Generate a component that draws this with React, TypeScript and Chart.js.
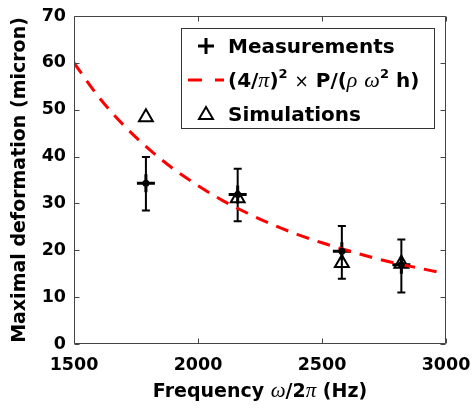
import React, { useEffect, useRef } from 'react';
import { Chart, registerables } from 'chart.js';
Chart.register(...registerables);

// ---- data ----
const FREQ = [1790, 2160, 2580, 2820];
const MEASURED = [34.3, 31.9, 19.8, 16.9];
const ERR_LOW = [28.5, 26.2, 13.9, 11.0];
const ERR_HIGH = [39.9, 37.4, 25.2, 22.3];
const SIMULATED = [48.4, 31.1, 17.3, 17.1];
const MODEL_FREQ = [1500, 1600, 1700, 1800, 1900, 2000, 2100, 2200, 2300, 2400, 2500, 2600, 2700, 2800, 2900, 3000];
const MODEL_DEF = [60.0, 52.7, 46.7, 41.7, 37.4, 33.8, 30.6, 27.9, 25.5, 23.4, 21.6, 20.0, 18.5, 17.2, 16.1, 15.0];
const X_TICKS = [1500, 2000, 2500, 3000];
const Y_TICKS = [0, 10, 20, 30, 40, 50, 60, 70];
const Y_TITLE = 'Maximal deformation (micron)';
const LEGEND_MEAS = 'Measurements';
const LEGEND_SIM = 'Simulations';

const SANS = '"DejaVu Sans"';
const SERIF = '"Liberation Serif"';

type Run = { t: string; font: string; dy?: number };

function runsWidth(ctx: CanvasRenderingContext2D, runs: Run[]) {
  let w = 0;
  for (const r of runs) { ctx.font = r.font; w += ctx.measureText(r.t).width; }
  return w;
}
function drawRuns(ctx: CanvasRenderingContext2D, runs: Run[], x: number, y: number) {
  for (const r of runs) {
    ctx.font = r.font;
    ctx.fillText(r.t, x, y + (r.dy || 0));
    x += ctx.measureText(r.t).width;
  }
}

const decorPlugin = {
  id: 'decor',
  beforeDatasetsDraw(chart: any) {
    const { ctx, scales: { x, y } } = chart;
    ctx.save();
    ctx.strokeStyle = '#000';
    ctx.lineWidth = 2;
    FREQ.forEach((f, i) => {
      const px = x.getPixelForValue(f);
      const top = y.getPixelForValue(ERR_HIGH[i]);
      const bot = y.getPixelForValue(ERR_LOW[i]);
      ctx.beginPath();
      ctx.moveTo(px, top); ctx.lineTo(px, bot);
      ctx.moveTo(px - 4, top); ctx.lineTo(px + 4, top);
      ctx.moveTo(px - 4, bot); ctx.lineTo(px + 4, bot);
      ctx.stroke();
    });
    ctx.restore();
  },
  afterDatasetsDraw(chart: any) {
    const { ctx, scales: { x, y } } = chart;
    ctx.save();
    ctx.fillStyle = '#000';
    FREQ.forEach((f, i) => {
      ctx.beginPath();
      ctx.arc(x.getPixelForValue(f), y.getPixelForValue(MEASURED[i]), 3.5, 0, Math.PI * 2);
      ctx.fill();
    });
    ctx.restore();
  },
  afterDraw(chart: any) {
    const { ctx, chartArea: a, scales: { x, y } } = chart;
    ctx.save();
    // axes box with inward ticks
    ctx.strokeStyle = '#444';
    ctx.lineWidth = 1;
    const L = Math.round(a.left) + 0.5, R = Math.round(a.right) - 0.5;
    const T = Math.round(a.top) + 0.5, B = Math.round(a.bottom) - 0.5;
    ctx.beginPath();
    ctx.rect(L, T, R - L, B - T);
    const tl = 5;
    X_TICKS.forEach(v => {
      const px = Math.round(x.getPixelForValue(v)) + 0.5;
      ctx.moveTo(px, B); ctx.lineTo(px, B - tl);
      ctx.moveTo(px, T); ctx.lineTo(px, T + tl);
    });
    Y_TICKS.forEach(v => {
      const py = Math.round(y.getPixelForValue(v)) + 0.5;
      ctx.moveTo(L, py); ctx.lineTo(L + tl, py);
      ctx.moveTo(R, py); ctx.lineTo(R - tl, py);
    });
    ctx.stroke();

    // x-axis title
    ctx.fillStyle = '#000';
    ctx.textBaseline = 'alphabetic';
    ctx.textAlign = 'left';
    const tb = `bold 19px ${SANS}`;
    const tg = `italic 21px ${SERIF}`;
    const xt: Run[] = [
      { t: 'Frequency ', font: tb },
      { t: 'ω', font: tg },
      { t: '/2', font: tb },
      { t: 'π', font: tg },
      { t: ' (Hz)', font: tb },
    ];
    const cx = (a.left + a.right) / 2;
    drawRuns(ctx, xt, cx - runsWidth(ctx, xt) / 2, 397);

    // legend
    const lx = 181.5, ly = 28.5, lw = 253, lh = 100;
    ctx.fillStyle = '#fff';
    ctx.fillRect(lx, ly, lw, lh);
    ctx.strokeStyle = '#333';
    ctx.lineWidth = 1;
    ctx.strokeRect(lx, ly, lw, lh);

    const lb = `bold 20px ${SANS}`;
    const lg = `italic 22px ${SERIF}`;
    const ls = `bold 13px ${SANS}`;
    const ln = `17px ${SANS}`;
    const textX = 228;
    const rows = [53, 87, 121];
    const mx = 206;

    // row 1 : plus marker
    ctx.strokeStyle = '#000';
    ctx.lineWidth = 3;
    ctx.beginPath();
    ctx.moveTo(mx - 8, rows[0] - 7); ctx.lineTo(mx + 8, rows[0] - 7);
    ctx.moveTo(mx, rows[0] - 15); ctx.lineTo(mx, rows[0] + 1);
    ctx.stroke();
    ctx.fillStyle = '#000';
    drawRuns(ctx, [{ t: LEGEND_MEAS, font: lb }], textX, rows[0]);

    // row 2 : dashed red line
    ctx.strokeStyle = '#ff0000';
    ctx.lineWidth = 3;
    ctx.setLineDash([14, 13]);
    ctx.beginPath();
    ctx.moveTo(188, rows[1] - 7); ctx.lineTo(224, rows[1] - 7);
    ctx.stroke();
    ctx.setLineDash([]);
    const formula: Run[] = [
      { t: '(4/', font: lb },
      { t: 'π', font: lg },
      { t: ')', font: lb },
      { t: '2', font: ls, dy: -9 },
      { t: ' ', font: lb },
      { t: '×', font: ln },
      { t: ' P/(', font: lb },
      { t: 'ρ', font: lg },
      { t: ' ', font: lb },
      { t: 'ω', font: lg },
      { t: '2', font: ls, dy: -9 },
      { t: ' h)', font: lb },
    ];
    drawRuns(ctx, formula, textX, rows[1]);

    // row 3 : triangle
    ctx.strokeStyle = '#000';
    ctx.lineWidth = 2;
    const ty = rows[2] - 7;
    ctx.beginPath();
    ctx.moveTo(mx, ty - 7);
    ctx.lineTo(mx + 7, ty + 5);
    ctx.lineTo(mx - 7, ty + 5);
    ctx.closePath();
    ctx.stroke();
    drawRuns(ctx, [{ t: LEGEND_SIM, font: lb }], textX, rows[2]);
    ctx.restore();
  },
};

export default function App() {
  const ref = useRef<HTMLCanvasElement>(null);
  useEffect(() => {
    document.body.style.margin = '0';
    const tickFont = { family: 'DejaVu Sans', size: 17.5, weight: 'bold' as const };
    const chart = new Chart(ref.current!, {
      type: 'scatter',
      data: {
        datasets: [
          {
            label: 'model',
            data: MODEL_FREQ.map((f, i) => ({ x: f, y: MODEL_DEF[i] })),
            showLine: true,
            borderColor: '#ff0000',
            borderWidth: 3,
            borderDash: [13, 9],
            pointRadius: 0,
            cubicInterpolationMode: 'monotone',
            fill: false,
          },
          {
            label: LEGEND_MEAS,
            data: FREQ.map((f, i) => ({ x: f, y: MEASURED[i] })),
            pointStyle: 'cross',
            pointRadius: 9,
            pointBorderWidth: 3,
            pointBorderColor: '#000',
            pointBackgroundColor: '#000',
          },
          {
            label: LEGEND_SIM,
            data: FREQ.map((f, i) => ({ x: f, y: SIMULATED[i] })),
            pointStyle: 'triangle',
            pointRadius: 8,
            pointBorderWidth: 2,
            pointBorderColor: '#000',
            pointBackgroundColor: 'rgba(0,0,0,0)',
          },
        ],
      },
      options: {
        responsive: false,
        animation: false,
        devicePixelRatio: 1,
        layout: { padding: { left: 0, right: 26, top: 16, bottom: 0 } },
        plugins: { legend: { display: false }, tooltip: { enabled: false } },
        scales: {
          x: {
            type: 'linear',
            min: 1500,
            max: 3000,
            afterBuildTicks: (s: any) => { s.ticks = X_TICKS.map(v => ({ value: v })); },
            afterFit: (s: any) => { s.height = 67; s.paddingLeft = 0; s.paddingRight = 0; },
            grid: { display: false, drawTicks: false },
            border: { display: false },
            ticks: { font: tickFont, color: '#000', padding: 11, maxRotation: 0, callback: (v: any) => String(v) },
          },
          y: {
            type: 'linear',
            min: 0,
            max: 70,
            afterBuildTicks: (s: any) => { s.ticks = Y_TICKS.map(v => ({ value: v })); },
            afterFit: (s: any) => { s.width = 74; s.paddingTop = 0; s.paddingBottom = 0; },
            grid: { display: false, drawTicks: false },
            border: { display: false },
            ticks: { font: tickFont, color: '#000', padding: 8, callback: (v: any) => String(v) },
            title: {
              display: true,
              text: Y_TITLE,
              color: '#000',
              font: { family: 'DejaVu Sans', size: 19, weight: 'bold' },
              padding: { top: 9, bottom: 0 },
            },
          },
        },
      },
      plugins: [decorPlugin],
    } as any);
    return () => chart.destroy();
  }, []);
  return (
    <div style={{ width: 472, height: 411 }}>
      <canvas ref={ref} width={472} height={411} style={{ display: 'block' }} />
    </div>
  );
}
